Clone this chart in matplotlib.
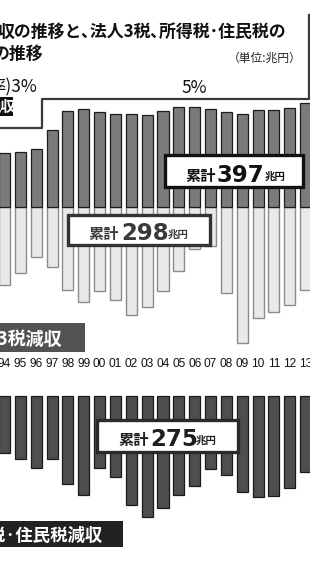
import matplotlib
matplotlib.use("Agg")
import matplotlib.pyplot as plt
from matplotlib.patches import Rectangle
from matplotlib.lines import Line2D
from matplotlib import font_manager
import numpy as np

plt.rcParams['font.family'] = ['Noto Sans CJK JP', 'DejaVu Sans']

# ---- data (兆円) ----
years = ['94', '95', '96', '97', '98', '99', '00', '01', '02', '03',
         '04', '05', '06', '07', '08', '09', '10', '11', '12', '13']
consumption_tax = [5.6, 5.7, 6.0, 8.0, 10.0, 10.2, 9.9, 9.7, 9.7, 9.6,
                   10.0, 10.4, 10.4, 10.2, 9.9, 9.7, 10.1, 10.1, 10.3, 10.8]
corporate_loss = [8.1, 6.9, 5.2, 6.3, 8.6, 9.9, 8.8, 9.7, 11.3, 10.4,
                  8.8, 6.7, 4.4, 4.1, 9.0, 14.2, 11.6, 10.9, 10.2, 8.6]
income_loss = [5.9, 6.6, 7.5, 6.6, 9.2, 10.3, 7.5, 8.4, 11.4, 12.6,
               11.7, 10.3, 9.4, 7.6, 8.2, 10.0, 10.5, 10.4, 9.6, 7.9]
total_consumption = '397'
total_corporate = '298'
total_income = '275'

W, H = 310, 577
fig = plt.figure(figsize=(W / 100, H / 100), dpi=100)
fig.patch.set_facecolor('white')

PXY = 9.6      # px per 兆円
PXX = 15.85    # px per year
X0 = 4.5       # px centre of first bar
x = np.arange(len(years))
xlim = (-X0 / PXX, (W - X0) / PXX)

installed = {f.name for f in font_manager.fontManager.ttflist}
if 'Liberation Sans Narrow' in installed:
    tick_family, tick_size = 'Liberation Sans Narrow', 9.5
elif 'DejaVu Sans Condensed' in installed:
    tick_family, tick_size = 'DejaVu Sans Condensed', 8.5
else:
    tick_family, tick_size = 'Liberation Sans', 8.6


def ax_at(top_px, bot_px, base_px):
    ax = fig.add_axes([0, 1 - bot_px / H, 1, (bot_px - top_px) / H])
    ax.set_xlim(*xlim)
    ax.set_ylim(-(bot_px - base_px) / PXY, (base_px - top_px) / PXY)
    ax.patch.set_visible(False)
    for s in ax.spines.values():
        s.set_visible(False)
    ax.set_yticks([])
    return ax


# top panel: consumption tax up, corporate tax loss down
ax1 = ax_at(100, 350, 207)
ax1.bar(x, consumption_tax, width=0.7, color='#7b7b7b', edgecolor='#1c1c1c',
        linewidth=0.9, zorder=2)
ax1.bar(x, -np.array(corporate_loss), width=0.7, color='#e9e9e9',
        edgecolor='#8c8c8c', linewidth=1.0, zorder=1)
ax1.set_xticks(x, years)
ax1.tick_params(axis='x', length=0, pad=6.0, labelsize=tick_size)
for lab in ax1.get_xticklabels():
    lab.set_family([tick_family, 'DejaVu Sans'])
    lab.set_color('#111111')

# bottom panel: income / resident tax loss
ax2 = ax_at(390, 570, 396)
ax2.bar(x, -np.array(income_loss), width=0.7, color='#4e4e4e',
        edgecolor='#1a1a1a', linewidth=0.9)
ax2.set_xticks([])


def T(px, py, s, **kw):
    return fig.text(px / W, 1 - py / H, s, **kw)


def R(x0, y0, x1, y1, **kw):
    fig.add_artist(Rectangle((x0 / W, 1 - y1 / H), (x1 - x0) / W, (y1 - y0) / H,
                             transform=fig.transFigure, **kw))


def L(xs, ys, **kw):
    fig.add_artist(Line2D([v / W for v in xs], [1 - v / H for v in ys],
                          transform=fig.transFigure, **kw))


# title
T(-2, 37, '収の推移と､法人3税､所得税･住民税の', fontsize=12.2,
  weight='bold', color='#111111', va='baseline')
T(-7.5, 59, 'の推移', fontsize=12.2, weight='bold', color='#111111', va='baseline')
T(301, 62, '（単位:兆円）', fontsize=8.5, color='#222222', va='baseline', ha='right')
T(37, 91, '率)3%', fontsize=12.5, color='#111111', va='baseline', ha='right')
T(194, 93, '5%', fontsize=12.5, color='#111111', va='baseline', ha='center')

# frame lines and black label
L([0, 42, 42, 308.5, 308.5], [128, 128, 98.5, 98.5, 15], color='#3a3a3a', lw=1.6)
R(-20, 97, 12.7, 115.7, facecolor='#111111', edgecolor='none')
T(16, 112, '税収', fontsize=11, weight='bold', color='white', va='baseline', ha='right')

# total boxes
R(165, 155, 303, 187, facecolor='white', edgecolor='#111111', lw=2.4)
T(185, 181, '累計', fontsize=11, weight='bold', color='#111111', va='baseline')
T(217, 182, total_consumption, fontsize=16.5, weight='bold', family='DejaVu Sans',
  color='#111111', va='baseline')
T(265, 180, '兆円', fontsize=7.5, weight='bold', color='#111111', va='baseline')

R(68, 215, 210, 245, facecolor='white', edgecolor='#333333', lw=2.4)
T(88, 239, '累計', fontsize=11, weight='bold', color='#3a3a3a', va='baseline')
T(121, 240, total_corporate, fontsize=16.5, weight='bold', family='DejaVu Sans',
  color='#3a3a3a', va='baseline')
T(168, 238, '兆円', fontsize=7.5, weight='bold', color='#3a3a3a', va='baseline')

R(97, 420, 238, 452, facecolor='white', edgecolor='#2a2a2a', lw=2.4)
T(118, 445, '累計', fontsize=11, weight='bold', color='#1e1e1e', va='baseline')
T(150, 446, total_income, fontsize=16.5, weight='bold', family='DejaVu Sans',
  color='#1e1e1e', va='baseline')
T(196, 444, '兆円', fontsize=7.5, weight='bold', color='#1e1e1e', va='baseline')

# series labels
R(-20, 323, 85, 352, facecolor='#525252', edgecolor='none')
T(62, 345, '法人3税減収', fontsize=13, weight='bold', color='white',
  va='baseline', ha='right')
R(-20, 521, 123, 547, facecolor='#222222', edgecolor='none')
T(103, 541, '所得税·住民税減収', fontsize=12.5, weight='bold', color='white',
  va='baseline', ha='right')

fig.savefig('out.png', dpi=100, facecolor='white')
